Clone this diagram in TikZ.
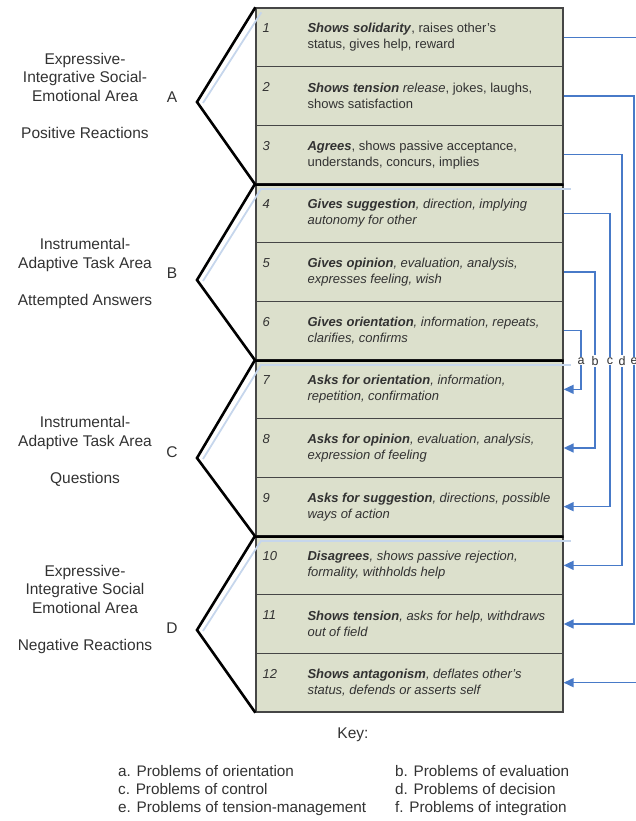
\documentclass[tikz,border=0pt]{standalone}
\usepackage{fontspec}
\setmainfont{Liberation Sans}
\usetikzlibrary{arrows.meta}
\definecolor{boxfill}{RGB}{220,224,204}
\definecolor{boxline}{RGB}{70,70,70}
\definecolor{ink}{RGB}{50,50,50}
\definecolor{linkblue}{RGB}{72,122,200}
\definecolor{shade}{RGB}{198,214,236}
\begin{document}
\begin{tikzpicture}[x=1pt,y=-1pt,
  row/.style={draw=boxline,line width=1.3pt,fill=boxfill,minimum width=307pt,minimum height=58.67pt,inner sep=0pt},
  num/.style={anchor=base west,inner sep=0pt,text=ink,font=\fontsize{13}{16}\selectfont\itshape},
  txt/.style={anchor=west,inner sep=0pt,align=left,text=ink,font=\fontsize{13}{16}\selectfont},
  itxt/.style={txt,font=\fontsize{13}{16}\selectfont\itshape},
  area/.style={align=center,inner sep=0pt,text=ink,font=\fontsize{15.5}{18.5}\selectfont},
  keys/.style={anchor=west,align=left,inner sep=0pt,text=ink,font=\fontsize{15.3}{18}\selectfont},
  link/.style={draw=linkblue,line width=1.6pt,-{Triangle[length=10pt,width=9pt]}},
  tag/.style={fill=white,inner sep=1pt,text=ink,font=\fontsize{12.5}{14}\selectfont},
  brace/.style={line width=2.6pt,line join=miter},
  shadow/.style={draw=shade,line width=1.8pt}]
\useasboundingbox (0,0) rectangle (636,821);
\node[row](r1) at (409.5,37.33) {};
\node[row](r2) at (409.5,96) {};
\node[row](r3) at (409.5,154.67) {};
\node[row](r4) at (409.5,213.33) {};
\node[row](r5) at (409.5,272) {};
\node[row](r6) at (409.5,330.67) {};
\node[row](r7) at (409.5,389.33) {};
\node[row](r8) at (409.5,448) {};
\node[row](r9) at (409.5,506.67) {};
\node[row](r10) at (409.5,565.33) {};
\node[row](r11) at (409.5,624) {};
\node[row](r12) at (409.5,682.67) {};
\node[num](n1) at ([xshift=7pt,yshift=4.5pt]r1.west) {1};
\node[num](n2) at ([xshift=7pt,yshift=4.5pt]r2.west) {2};
\node[num](n3) at ([xshift=7pt,yshift=4.5pt]r3.west) {3};
\node[num](n4) at ([xshift=7pt,yshift=4.5pt]r4.west) {4};
\node[num](n5) at ([xshift=7pt,yshift=4.5pt]r5.west) {5};
\node[num](n6) at ([xshift=7pt,yshift=4.5pt]r6.west) {6};
\node[num](n7) at ([xshift=7pt,yshift=4.5pt]r7.west) {7};
\node[num](n8) at ([xshift=7pt,yshift=4.5pt]r8.west) {8};
\node[num](n9) at ([xshift=7pt,yshift=4.5pt]r9.west) {9};
\node[num](n10) at ([xshift=7pt,yshift=4.5pt]r10.west) {10};
\node[num](n11) at ([xshift=7pt,yshift=4.5pt]r11.west) {11};
\node[num](n12) at ([xshift=7pt,yshift=4.5pt]r12.west) {12};
\node[txt](t1) at ([xshift=52pt]r1.west) {\textbf{\textit{Shows solidarity}}, raises other's\\status, gives help, reward};
\node[txt](t2) at ([xshift=52pt]r2.west) {\textbf{\textit{Shows tension}} \textit{release}, jokes, laughs,\\shows satisfaction};
\node[txt](t3) at ([xshift=52pt]r3.west) {\textbf{\textit{Agrees}}, shows passive acceptance,\\understands, concurs, implies};
\node[itxt](t4) at ([xshift=52pt]r4.west) {\textbf{Gives suggestion}, direction, implying\\autonomy for other};
\node[itxt](t5) at ([xshift=52pt]r5.west) {\textbf{Gives opinion}, evaluation, analysis,\\expresses feeling, wish};
\node[itxt](t6) at ([xshift=52pt]r6.west) {\textbf{Gives orientation}, information, repeats,\\clarifies, confirms};
\node[itxt](t7) at ([xshift=52pt]r7.west) {\textbf{Asks for orientation}, information,\\repetition, confirmation};
\node[itxt](t8) at ([xshift=52pt]r8.west) {\textbf{Asks for opinion}, evaluation, analysis,\\expression of feeling};
\node[itxt](t9) at ([xshift=52pt]r9.west) {\textbf{Asks for suggestion}, directions, possible\\ways of action};
\node[itxt](t10) at ([xshift=52pt]r10.west) {\textbf{Disagrees}, shows passive rejection,\\formality, withholds help};
\node[itxt](t11) at ([xshift=52pt]r11.west) {\textbf{Shows tension}, asks for help, withdraws\\out of field};
\node[itxt](t12) at ([xshift=52pt]r12.west) {\textbf{Shows antagonism}, deflates other's\\status, defends or asserts self};
\draw[shadow] ([shift={(6,5)}]r1.north west) -- (203,103);
\draw[shadow] ([shift={(6,5)}]r4.north west) -- (203,281);
\draw[shadow] ([shift={(6,5)}]r7.north west) -- (203,459);
\draw[shadow] ([shift={(6,5)}]r10.north west) -- (203,631);
\draw[shadow] ([shift={(6,4)}]r3.south west) -- ([shift={(7,4)}]r3.south east);
\draw[shadow] ([shift={(6,4)}]r6.south west) -- ([shift={(7,4)}]r6.south east);
\draw[shadow] ([shift={(6,4)}]r9.south west) -- ([shift={(7,4)}]r9.south east);
\draw[brace] (r1.north west) -- (197,102) -- (r3.south west) -- (r3.south east);
\draw[brace] (r4.north west) -- (197,280) -- (r6.south west) -- (r6.south east);
\draw[brace] (r7.north west) -- (197,458) -- (r9.south west) -- (r9.south east);
\draw[brace] (r10.north west) -- (197,630) -- (r12.south west);
\node[area](la) at (85,95.5) {Expressive-\\Integrative Social-\\Emotional Area\\[18.5pt]Positive Reactions};
\node[area](lb) at (85,273.5) {Instrumental-\\Adaptive Task Area\\[18.5pt]Attempted Answers};
\node[area](lc) at (85,451.5) {Instrumental-\\Adaptive Task Area\\[18.5pt]Questions};
\node[area](ld) at (85,609) {Expressive-\\Integrative Social\\Emotional Area\\[18.5pt]Negative Reactions};
\node[area](ga) at (172,97) {A};
\node[area](gb) at (172,273) {B};
\node[area](gc) at (172,452) {C};
\node[area](gd) at (172,628) {D};
\draw[link] (r1.east) -| (642,361) |- (r12.east);
\draw[link] (r2.east) -| (634,361) node[tag]{e} |- (r11.east);
\draw[link] (r3.east) -| (622,361) node[tag]{d} |- (r10.east);
\draw[link] (r4.east) -| (610,361) node[tag]{c} |- (r9.east);
\draw[link] (r5.east) -| (595,361) node[tag]{b} |- (r8.east);
\draw[link] (r6.east) -| (581,361) node[tag]{a} |- (r7.east);
\node[area](key) at (353,735) {Key:};
\node[keys](kl) at (118,791) {a. Problems of orientation\\c. Problems of control\\e. Problems of tension-management};
\node[keys](kr) at (395,791) {b. Problems of evaluation\\d. Problems of decision\\f. Problems of integration};
\end{tikzpicture}
\end{document}
